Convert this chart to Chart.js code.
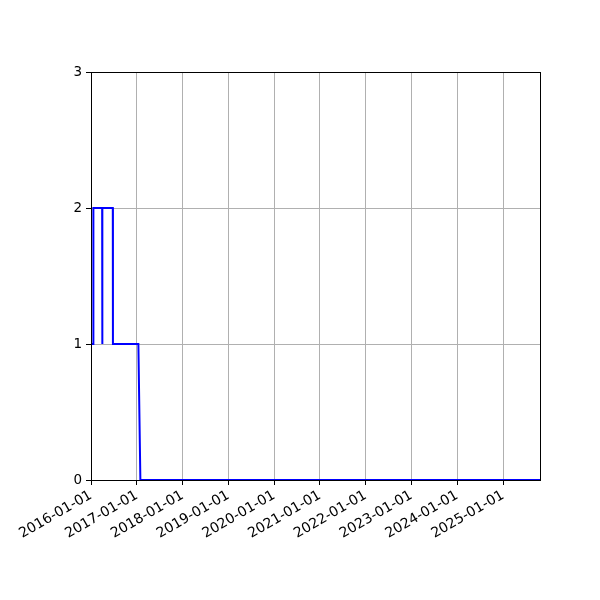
<!DOCTYPE html>
<html>
<head>
<meta charset="utf-8">
<script src="https://cdn.jsdelivr.net/npm/chart.js@4/dist/chart.umd.min.js"></script>
<style>
  html, body { margin: 0; padding: 0; background: white; }
</style>
</head>
<body>
<canvas id="mainChart" width="600" height="600"></canvas>
<script>
// Series (dates, values)
const dates = [
  "2016-01-01", "2016-01-19", "2016-01-20", "2016-03-30", "2016-03-31",
  "2016-04-01", "2016-06-23", "2016-06-24", "2017-01-13", "2017-01-29",
  "2025-10-23"
];
const values = [1, 1, 2, 2, 1, 2, 2, 1, 1, 0, 0];

// Axis ticks
const yearTicks = [2016, 2017, 2018, 2019, 2020, 2021, 2022, 2023, 2024, 2025];
const yTicks = [0, 1, 2, 3];
const xStart = "2016-01-01";
const xEnd = "2025-10-23";

const toMs = d => Date.parse(d + "T00:00:00Z");
const fmtDate = ms => new Date(ms).toISOString().slice(0, 10);

const points = dates.map((d, i) => ({ x: toMs(d), y: values[i] }));

// Frame round the plot area (top and right sides)
const frame = {
  id: "frame",
  afterDraw(chart) {
    const a = chart.chartArea;
    const c = chart.ctx;
    c.save();
    c.strokeStyle = "black";
    c.lineWidth = 1;
    c.strokeRect(Math.round(a.left) + 0.5, Math.round(a.top) + 0.5,
      Math.round(a.right - a.left), Math.round(a.bottom - a.top));
    c.restore();
  }
};

Chart.defaults.font.family = "'DejaVu Sans', sans-serif";
Chart.defaults.font.size = 13.5;
Chart.defaults.color = "black";

new Chart(document.getElementById("mainChart"), {
  type: "line",
  data: {
    datasets: [{
      data: points,
      borderColor: "#0000ff",
      borderWidth: 2,
      pointRadius: 0,
      tension: 0,
      fill: false
    }]
  },
  options: {
    responsive: false,
    animation: false,
    layout: { padding: { top: 72, right: 60, left: 0, bottom: 0 } },
    plugins: { legend: { display: false }, tooltip: { enabled: false } },
    scales: {
      x: {
        type: "linear",
        min: toMs(xStart),
        max: toMs(xEnd),
        afterBuildTicks: axis => {
          axis.ticks = yearTicks.map(y => ({ value: Date.UTC(y, 0, 1) }));
        },
        afterFit: axis => { axis.height = 120; },
        ticks: {
          minRotation: 30,
          maxRotation: 30,
          autoSkip: false,
          padding: 2,
          font: { size: 14 },
          callback: v => fmtDate(v)
        },
        grid: { color: "#b0b0b0", lineWidth: 1, tickColor: "black", tickLength: 5 },
        border: { color: "black", width: 1 }
      },
      y: {
        min: 0,
        max: 3,
        afterBuildTicks: axis => {
          axis.ticks = yTicks.map(v => ({ value: v }));
        },
        afterFit: axis => { axis.width = 91; },
        ticks: { padding: 4 },
        grid: { color: "#b0b0b0", lineWidth: 1, tickColor: "black", tickLength: 5 },
        border: { color: "black", width: 1 }
      }
    }
  },
  plugins: [frame]
});
</script>
</body>
</html>
